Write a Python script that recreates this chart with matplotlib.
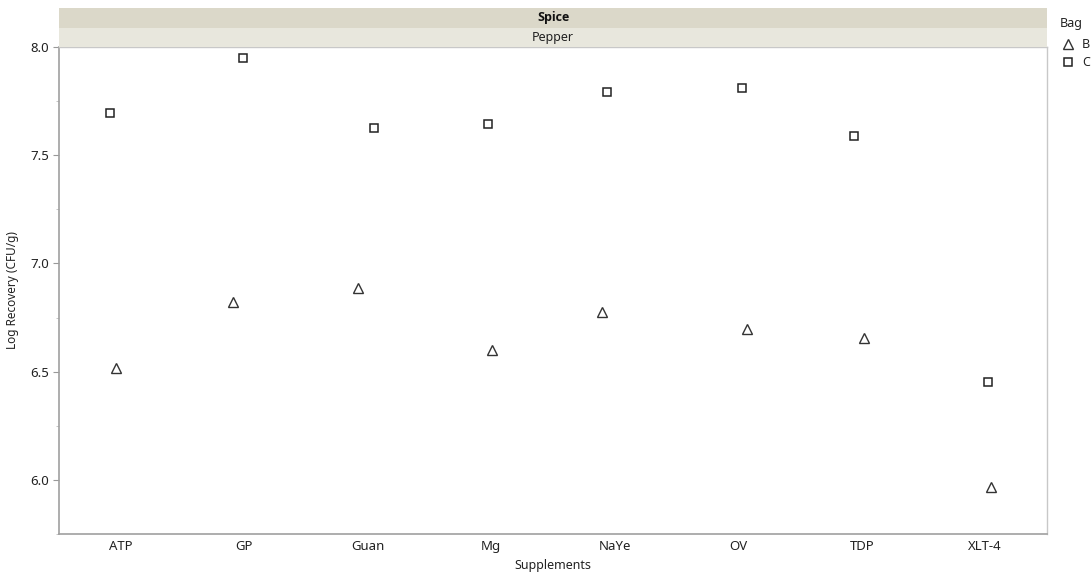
import matplotlib
matplotlib.use("Agg")
import matplotlib.pyplot as plt
from matplotlib.lines import Line2D
from matplotlib.patches import Rectangle
from matplotlib.ticker import MultipleLocator

plt.rcParams['font.family'] = ['Noto Sans', 'DejaVu Sans']

categories = ["ATP", "GP", "Guan", "Mg", "NaYe", "OV", "TDP", "XLT-4"]
bag_B = [6.515, 6.823, 6.885, 6.602, 6.775, 6.697, 6.655, 5.965]
bag_C = [7.695, 7.949, 7.626, 7.645, 7.792, 7.812, 7.589, 6.454]
# small horizontal jitter (category units) as in the original
jitter_B = [-0.04, -0.09, -0.08, 0.01, -0.10, 0.07, 0.02, 0.05]
jitter_C = [-0.09, -0.01, 0.05, -0.03, -0.06, 0.03, -0.06, 0.02]

W, H = 1092, 577
fig = plt.figure(figsize=(W / 100, H / 100), dpi=100)
ax = fig.add_axes([59 / W, 1 - 534 / H, (1047 - 59) / W, (534 - 47) / H])

xs = range(len(categories))
ax.plot([x + j for x, j in zip(xs, jitter_B)], bag_B, linestyle='none', marker='^',
        markersize=7, markerfacecolor='white', markeredgecolor='#333333', markeredgewidth=1.0)
ax.plot([x + j for x, j in zip(xs, jitter_C)], bag_C, linestyle='none', marker='s',
        markersize=5.5, markerfacecolor='white', markeredgecolor='#222222', markeredgewidth=1.1)

ax.set_xlim(-0.5, len(categories) - 0.5)
ax.set_ylim(5.75, 8.0)
ax.set_xticks(list(xs))
ax.set_xticklabels(categories)
ax.yaxis.set_major_locator(MultipleLocator(0.5))
ax.yaxis.set_minor_locator(MultipleLocator(0.25))
ax.yaxis.set_major_formatter(matplotlib.ticker.FormatStrFormatter('%.1f'))
ax.tick_params(axis='x', length=0, pad=4, labelsize=9.5, labelcolor='#222222')
ax.tick_params(axis='y', which='major', length=4, color='#999999', pad=3, labelsize=9.5, labelcolor='#222222')
ax.tick_params(axis='y', which='minor', length=2, color='#bbbbbb')
for s in ['left', 'bottom']:
    ax.spines[s].set_color('#a0a0a0')
    ax.spines[s].set_linewidth(1.2)
for s in ['right', 'top']:
    ax.spines[s].set_color('#c8c8c8')
    ax.spines[s].set_linewidth(1.0)

ax.set_ylabel("Log Recovery (CFU/g)", fontsize=8.5, color='#222222', labelpad=8)
ax.set_xlabel("Supplements", fontsize=9, color='#222222', labelpad=5)

# header bands
fig.patches.append(Rectangle((59 / W, 1 - 28 / H), (1047 - 59) / W, 20 / H,
                             transform=fig.transFigure, facecolor='#dbd8c9', edgecolor='none'))
fig.patches.append(Rectangle((59 / W, 1 - 47 / H), (1047 - 59) / W, 19 / H,
                             transform=fig.transFigure, facecolor='#e8e7dd', edgecolor='none'))
fig.text((59 + 1047) / 2 / W, 1 - 18 / H, "Spice", ha='center', va='center',
         fontsize=9, fontweight='bold', color='#111111', family=['Open Sans', 'DejaVu Sans'])
fig.text((59 + 1047) / 2 / W, 1 - 37 / H, "Pepper", ha='center', va='center',
         fontsize=9, color='#222222')

# legend
fig.text(1060 / W, 1 - 24 / H, "Bag", ha='left', va='center', fontsize=9, color='#222222')
fig.add_artist(Line2D([1068 / W], [1 - 44 / H], transform=fig.transFigure, marker='^',
                      markersize=7, markerfacecolor='white', markeredgecolor='#333333',
                      markeredgewidth=1.0, linestyle='none'))
fig.add_artist(Line2D([1068 / W], [1 - 62 / H], transform=fig.transFigure, marker='s',
                      markersize=5.5, markerfacecolor='white', markeredgecolor='#222222',
                      markeredgewidth=1.1, linestyle='none'))
fig.text(1082 / W, 1 - 44 / H, "B", ha='left', va='center', fontsize=9, color='#222222')
fig.text(1082 / W, 1 - 62 / H, "C", ha='left', va='center', fontsize=9, color='#222222')

fig.savefig("out.png", dpi=100)
